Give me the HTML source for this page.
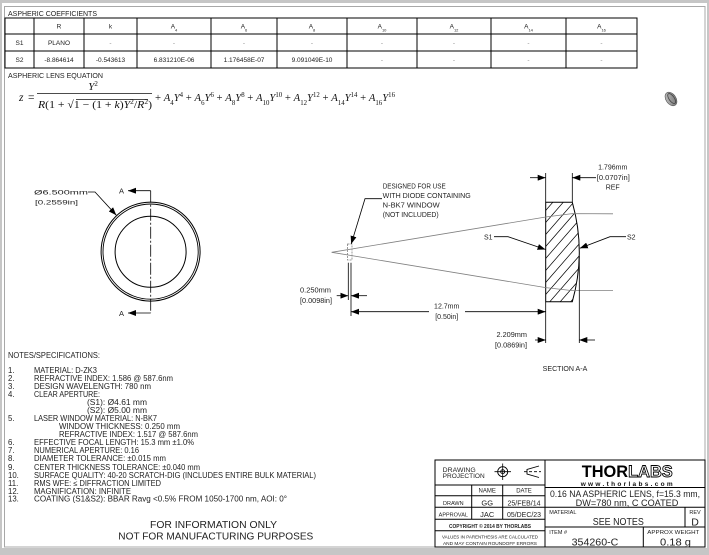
<!DOCTYPE html>
<html><head><meta charset="utf-8"><style>
html,body{margin:0;padding:0;background:#fff;}
svg{display:block;}
</style></head><body>
<svg xmlns="http://www.w3.org/2000/svg" width="709" height="555" viewBox="0 0 709 555" font-family="'Liberation Sans', sans-serif" fill="#222">
<defs>
<marker id="ah" viewBox="0 0 8 6" refX="8" refY="3" markerWidth="8" markerHeight="6" markerUnits="userSpaceOnUse" orient="auto"><path d="M0,0 L8,3 L0,6 z" fill="#000"/></marker>
<clipPath id="lc"><path d="M545.7,202.3 L572.3,202.3 Q586.3,252 572.3,301.7 L545.7,301.7 Z"/></clipPath>
<linearGradient id="lg" x1="0" y1="0" x2="1" y2="1"><stop offset="0" stop-color="#c8c8c8"/><stop offset="1" stop-color="#6a6a6a"/></linearGradient>
</defs>

<rect width="709" height="555" fill="#c6c6c6"/>
<rect x="2" y="3" width="705" height="545" fill="#fff"/>
<rect x="4.5" y="6.5" width="700.5" height="540.5" fill="none" stroke="#a8a8a8" stroke-width="1"/>

<text x="8" y="16" font-size="7.5" textLength="89" lengthAdjust="spacingAndGlyphs">ASPHERIC COEFFICIENTS</text>
<g stroke="#000" stroke-width="1" fill="none">
<rect x="5" y="18" width="632" height="50"/>
<line x1="5" y1="34" x2="637" y2="34"/>
<line x1="5" y1="51" x2="637" y2="51"/>
<line x1="34" y1="18" x2="34" y2="68"/>
<line x1="84" y1="18" x2="84" y2="68"/>
<line x1="137" y1="18" x2="137" y2="68"/>
<line x1="211" y1="18" x2="211" y2="68"/>
<line x1="277" y1="18" x2="277" y2="68"/>
<line x1="347" y1="18" x2="347" y2="68"/>
<line x1="417" y1="18" x2="417" y2="68"/>
<line x1="491" y1="18" x2="491" y2="68"/>
<line x1="566" y1="18" x2="566" y2="68"/>
</g>
<g font-size="6.5" text-anchor="middle">
<text x="59" y="28.5">R</text>
<text x="110.5" y="28.5">k</text>
<text x="174" y="28.5">A<tspan font-size="4" baseline-shift="sub">4</tspan></text>
<text x="244" y="28.5">A<tspan font-size="4" baseline-shift="sub">6</tspan></text>
<text x="312" y="28.5">A<tspan font-size="4" baseline-shift="sub">8</tspan></text>
<text x="382" y="28.5">A<tspan font-size="4" baseline-shift="sub">10</tspan></text>
<text x="454" y="28.5">A<tspan font-size="4" baseline-shift="sub">12</tspan></text>
<text x="528.5" y="28.5">A<tspan font-size="4" baseline-shift="sub">14</tspan></text>
<text x="601.5" y="28.5">A<tspan font-size="4" baseline-shift="sub">16</tspan></text>
<text x="19.5" y="45">S1</text>
<text x="59" y="45">PLANO</text>
<text x="110.5" y="45" fill="#888">-</text>
<text x="174" y="45" fill="#888">-</text>
<text x="244" y="45" fill="#888">-</text>
<text x="312" y="45" fill="#888">-</text>
<text x="382" y="45" fill="#888">-</text>
<text x="454" y="45" fill="#888">-</text>
<text x="528.5" y="45" fill="#888">-</text>
<text x="601.5" y="45" fill="#888">-</text>
<text x="19.5" y="62">S2</text>
<text x="59" y="62">-8.864614</text>
<text x="110.5" y="62">-0.543613</text>
<text x="174" y="62">6.831210E-06</text>
<text x="244" y="62">1.176458E-07</text>
<text x="312" y="62">9.091049E-10</text>
<text x="382" y="62" fill="#888">-</text>
<text x="454" y="62" fill="#888">-</text>
<text x="528.5" y="62" fill="#888">-</text>
<text x="601.5" y="62" fill="#888">-</text>
</g>

<text x="8" y="78" font-size="7.5" textLength="95" lengthAdjust="spacingAndGlyphs">ASPHERIC LENS EQUATION</text>
<g font-family="'Liberation Serif', serif" fill="#111">
<text x="19" y="101" font-size="11.5" font-style="italic">z</text>
<text x="28" y="101" font-size="11.5">=</text>
<text x="93" y="90" font-size="11" text-anchor="middle"><tspan font-style="italic">Y</tspan><tspan font-size="7" baseline-shift="super">2</tspan></text>
<line x1="37" y1="93.5" x2="152" y2="93.5" stroke="#111" stroke-width="0.8"/>
<text x="38" y="108" font-size="11" textLength="114" lengthAdjust="spacingAndGlyphs"><tspan font-style="italic">R</tspan>(1 + √1 − (1 + <tspan font-style="italic">k</tspan>)<tspan font-style="italic">Y</tspan><tspan font-size="7" baseline-shift="super">2</tspan>/<tspan font-style="italic">R</tspan><tspan font-size="7" baseline-shift="super">2</tspan>)</text>
<line x1="76" y1="99.5" x2="148" y2="99.5" stroke="#111" stroke-width="0.7"/>
<text x="155" y="101" font-size="11" textLength="240" lengthAdjust="spacingAndGlyphs">+ <tspan font-style="italic">A</tspan><tspan font-size="7" baseline-shift="sub">4</tspan><tspan font-style="italic">Y</tspan><tspan font-size="7" baseline-shift="super">4</tspan> + <tspan font-style="italic">A</tspan><tspan font-size="7" baseline-shift="sub">6</tspan><tspan font-style="italic">Y</tspan><tspan font-size="7" baseline-shift="super">6</tspan> + <tspan font-style="italic">A</tspan><tspan font-size="7" baseline-shift="sub">8</tspan><tspan font-style="italic">Y</tspan><tspan font-size="7" baseline-shift="super">8</tspan> + <tspan font-style="italic">A</tspan><tspan font-size="7" baseline-shift="sub">10</tspan><tspan font-style="italic">Y</tspan><tspan font-size="7" baseline-shift="super">10</tspan> + <tspan font-style="italic">A</tspan><tspan font-size="7" baseline-shift="sub">12</tspan><tspan font-style="italic">Y</tspan><tspan font-size="7" baseline-shift="super">12</tspan> + <tspan font-style="italic">A</tspan><tspan font-size="7" baseline-shift="sub">14</tspan><tspan font-style="italic">Y</tspan><tspan font-size="7" baseline-shift="super">14</tspan> + <tspan font-style="italic">A</tspan><tspan font-size="7" baseline-shift="sub">16</tspan><tspan font-style="italic">Y</tspan><tspan font-size="7" baseline-shift="super">16</tspan></text>
</g>

<g transform="translate(671,99) rotate(-35)">
<ellipse cx="0" cy="0" rx="5" ry="7.5" fill="url(#lg)" stroke="#555" stroke-width="0.6"/>
<ellipse cx="0.8" cy="0" rx="2.6" ry="5.8" fill="none" stroke="#444" stroke-width="0.8"/>
</g>

<g fill="none" stroke="#000">
<circle cx="150.6" cy="251.6" r="49.5" stroke-width="1"/>
<circle cx="150.6" cy="251.6" r="47.6" stroke-width="0.9"/>
<circle cx="150.6" cy="251.8" r="35.5" stroke-width="1"/>
<line x1="150.7" y1="190.7" x2="150.7" y2="313" stroke-width="0.8" stroke-dasharray="12,2,2,2"/>
<line x1="150.7" y1="190.7" x2="128" y2="190.7" stroke-width="0.8" marker-end="url(#ah)"/>
<line x1="150.7" y1="313" x2="128" y2="313" stroke-width="0.8" marker-end="url(#ah)"/>
<polyline points="88,192 95,192 116.3,215.2" stroke-width="0.8" marker-end="url(#ah)"/>
</g>
<text x="119" y="193.5" font-size="7.5">A</text>
<text x="119" y="316" font-size="7.5">A</text>
<text x="34" y="194.5" font-size="6.8" textLength="54" lengthAdjust="spacingAndGlyphs">Ø6.500mm</text>
<text x="35" y="204.5" font-size="6.8" textLength="43" lengthAdjust="spacingAndGlyphs">[0.2559in]</text>

<g clip-path="url(#lc)" stroke="#000" stroke-width="0.7">
<line x1="540" y1="205" x2="590" y2="147.5"/>
<line x1="540" y1="217" x2="590" y2="159.5"/>
<line x1="540" y1="229" x2="590" y2="171.5"/>
<line x1="540" y1="241" x2="590" y2="183.5"/>
<line x1="540" y1="253" x2="590" y2="195.5"/>
<line x1="540" y1="265" x2="590" y2="207.5"/>
<line x1="540" y1="277" x2="590" y2="219.5"/>
<line x1="540" y1="289" x2="590" y2="231.5"/>
<line x1="540" y1="301" x2="590" y2="243.5"/>
<line x1="540" y1="313" x2="590" y2="255.5"/>
<line x1="540" y1="325" x2="590" y2="267.5"/>
<line x1="540" y1="337" x2="590" y2="279.5"/>
<line x1="540" y1="349" x2="590" y2="291.5"/>
</g>
<path d="M545.7,202.3 L572.3,202.3 Q586.3,252 572.3,301.7 L545.7,301.7 Z" fill="none" stroke="#000" stroke-width="1"/>

<g fill="none" stroke="#808080" stroke-width="0.8">
<polyline points="331.7,252.3 545.7,217 572.3,213.6 613,213.8"/>
<polyline points="331.7,252.3 545.7,287.6 572.3,290.6 613,290.6"/>
<rect x="347.5" y="244" width="4.5" height="16" stroke-dasharray="2,1"/>
</g>

<g fill="none" stroke="#000" stroke-width="0.8">
<line x1="545.7" y1="173" x2="545.7" y2="202"/>
<line x1="572.3" y1="173" x2="572.3" y2="202"/>
<line x1="545.7" y1="302" x2="545.7" y2="343"/>
<line x1="579.3" y1="256" x2="579.3" y2="343"/>
<line x1="348.3" y1="262.7" x2="348.3" y2="300"/>
<line x1="351" y1="262.7" x2="351" y2="316"/>
<line x1="530" y1="177.7" x2="545.7" y2="177.7" marker-end="url(#ah)"/>
<line x1="596" y1="177.7" x2="572.3" y2="177.7" marker-end="url(#ah)"/>
<line x1="535" y1="340" x2="545.7" y2="340" marker-end="url(#ah)"/>
<line x1="595" y1="340" x2="579.3" y2="340" marker-end="url(#ah)"/>
<line x1="336.7" y1="295.7" x2="348.3" y2="295.7" marker-end="url(#ah)"/>
<line x1="367" y1="295.7" x2="351" y2="295.7" marker-end="url(#ah)"/>
<line x1="429" y1="311.7" x2="351" y2="311.7" marker-end="url(#ah)"/>
<line x1="465" y1="311.7" x2="545.7" y2="311.7" marker-end="url(#ah)"/>
<polyline points="494,236.7 508,236.7 545.5,249.5" marker-end="url(#ah)"/>
<polyline points="626,236.7 610,236.7 579.8,248.3" marker-end="url(#ah)"/>
<polyline points="382,198.7 365,198.7 351.2,244" marker-end="url(#ah)"/>
</g>
<g font-size="7">
<text x="612.7" y="169.5" text-anchor="middle">1.796mm</text>
<text x="613.3" y="180" text-anchor="middle" textLength="33" lengthAdjust="spacingAndGlyphs">[0.0707in]</text>
<text x="612.7" y="189.5" text-anchor="middle">REF</text>
<text x="300" y="292.5" textLength="31" lengthAdjust="spacingAndGlyphs">0.250mm</text>
<text x="300" y="302.8" textLength="32" lengthAdjust="spacingAndGlyphs">[0.0098in]</text>
<text x="446.7" y="308.5" text-anchor="middle">12.7mm</text>
<text x="446.7" y="318.8" text-anchor="middle">[0.50in]</text>
<text x="496.5" y="337" textLength="30.5" lengthAdjust="spacingAndGlyphs">2.209mm</text>
<text x="495" y="347.3" textLength="32" lengthAdjust="spacingAndGlyphs">[0.0869in]</text>
<text x="484" y="239.5">S1</text>
<text x="627" y="239.5">S2</text>
<text x="542.7" y="371" textLength="44.6" lengthAdjust="spacingAndGlyphs">SECTION A-A</text>
<text x="382.7" y="188.5" textLength="63" lengthAdjust="spacingAndGlyphs">DESIGNED FOR USE</text>
<text x="382.7" y="198" textLength="88" lengthAdjust="spacingAndGlyphs">WITH DIODE CONTAINING</text>
<text x="382.7" y="207.5" textLength="57" lengthAdjust="spacingAndGlyphs">N-BK7 WINDOW</text>
<text x="382.7" y="217" textLength="56" lengthAdjust="spacingAndGlyphs">(NOT INCLUDED)</text>
</g>

<g font-size="7.8">
<text x="8" y="358" textLength="92" lengthAdjust="spacingAndGlyphs">NOTES/SPECIFICATIONS:</text>
<text x="8" y="373">1.</text><text x="34" y="373" textLength="63" lengthAdjust="spacingAndGlyphs">MATERIAL: D-ZK3</text>
<text x="8" y="381">2.</text><text x="34" y="381" textLength="139" lengthAdjust="spacingAndGlyphs">REFRACTIVE INDEX: 1.586 @ 587.6nm</text>
<text x="8" y="389">3.</text><text x="34" y="389" textLength="117" lengthAdjust="spacingAndGlyphs">DESIGN WAVELENGTH: 780 nm</text>
<text x="8" y="397">4.</text><text x="34" y="397" textLength="66" lengthAdjust="spacingAndGlyphs">CLEAR APERTURE:</text>
<text x="87" y="405" textLength="60" lengthAdjust="spacingAndGlyphs">(S1): Ø4.61 mm</text>
<text x="87" y="413" textLength="60" lengthAdjust="spacingAndGlyphs">(S2): Ø5.00 mm</text>
<text x="8" y="421">5.</text><text x="34" y="421" textLength="123" lengthAdjust="spacingAndGlyphs">LASER WINDOW MATERIAL: N-BK7</text>
<text x="59" y="429" textLength="121" lengthAdjust="spacingAndGlyphs">WINDOW THICKNESS: 0.250 mm</text>
<text x="59" y="437" textLength="139" lengthAdjust="spacingAndGlyphs">REFRACTIVE INDEX: 1.517 @ 587.6nm</text>
<text x="8" y="445">6.</text><text x="34" y="445" textLength="160" lengthAdjust="spacingAndGlyphs">EFFECTIVE FOCAL LENGTH: 15.3 mm ±1.0%</text>
<text x="8" y="453">7.</text><text x="34" y="453" textLength="105" lengthAdjust="spacingAndGlyphs">NUMERICAL APERTURE: 0.16</text>
<text x="8" y="461">8.</text><text x="34" y="461" textLength="132" lengthAdjust="spacingAndGlyphs">DIAMETER TOLERANCE: ±0.015 mm</text>
<text x="8" y="470">9.</text><text x="34" y="470" textLength="166" lengthAdjust="spacingAndGlyphs">CENTER THICKNESS TOLERANCE: ±0.040 mm</text>
<text x="8" y="478">10.</text><text x="34" y="478" textLength="282" lengthAdjust="spacingAndGlyphs">SURFACE QUALITY: 40-20 SCRATCH-DIG (INCLUDES ENTIRE BULK MATERIAL)</text>
<text x="8" y="486">11.</text><text x="34" y="486" textLength="127" lengthAdjust="spacingAndGlyphs">RMS WFE: ≤ DIFFRACTION LIMITED</text>
<text x="8" y="494">12.</text><text x="34" y="494" textLength="97" lengthAdjust="spacingAndGlyphs">MAGNIFICATION: INFINITE</text>
<text x="8" y="501.5">13.</text><text x="34" y="501.5" textLength="253" lengthAdjust="spacingAndGlyphs">COATING (S1&amp;S2): BBAR Ravg &lt;0.5% FROM 1050-1700 nm, AOI: 0°</text>
</g>
<text x="150" y="528" font-size="10" textLength="127" lengthAdjust="spacingAndGlyphs">FOR INFORMATION ONLY</text>
<text x="118.3" y="539.5" font-size="10" textLength="195" lengthAdjust="spacingAndGlyphs">NOT FOR MANUFACTURING PURPOSES</text>

<g fill="none" stroke="#000" stroke-width="1">
<rect x="435" y="460" width="270" height="87"/>
<line x1="545" y1="460" x2="545" y2="547"/>
<line x1="435" y1="485" x2="545" y2="485"/>
<line x1="435" y1="495.7" x2="545" y2="495.7"/>
<line x1="435" y1="507.3" x2="545" y2="507.3"/>
<line x1="435" y1="519.3" x2="545" y2="519.3"/>
<line x1="435" y1="530.7" x2="545" y2="530.7"/>
<line x1="471.7" y1="485" x2="471.7" y2="519.3"/>
<line x1="502.7" y1="485" x2="502.7" y2="519.3"/>
<line x1="545" y1="487.5" x2="705" y2="487.5"/>
<line x1="545" y1="507.3" x2="705" y2="507.3"/>
<line x1="545" y1="527" x2="705" y2="527"/>
<line x1="685" y1="507.3" x2="685" y2="527"/>
<line x1="643.3" y1="527" x2="643.3" y2="547"/>
<circle cx="502.7" cy="471.7" r="5" stroke-width="0.9"/>
<circle cx="502.7" cy="471.7" r="2" stroke-width="0.9"/>
<line x1="494.5" y1="471.7" x2="511" y2="471.7" stroke-width="0.8"/>
<line x1="502.7" y1="463.5" x2="502.7" y2="480" stroke-width="0.8"/>
<path d="M539,466 L527,469.5 L527,474 L539,477.5" stroke-width="0.9"/>
<line x1="524" y1="471.7" x2="541" y2="471.7" stroke-width="0.8" stroke-dasharray="3,2"/>
</g>
<g font-size="6">
<text x="442.7" y="472" textLength="33" lengthAdjust="spacingAndGlyphs">DRAWING</text>
<text x="442.7" y="478" textLength="42" lengthAdjust="spacingAndGlyphs">PROJECTION</text>
<text x="487.2" y="492.5" text-anchor="middle">NAME</text>
<text x="524" y="492.5" text-anchor="middle">DATE</text>
<text x="453.3" y="505" text-anchor="middle" font-size="5.5">DRAWN</text>
<text x="453.3" y="516.5" text-anchor="middle" font-size="5.5">APPROVAL</text>
<text x="487.2" y="505.5" text-anchor="middle" font-size="7.5">GG</text>
<text x="487.2" y="517" text-anchor="middle" font-size="7.5">JAC</text>
<text x="524" y="505.5" text-anchor="middle" font-size="7" textLength="33" lengthAdjust="spacingAndGlyphs">25/FEB/14</text>
<text x="524" y="517" text-anchor="middle" font-size="7" textLength="34" lengthAdjust="spacingAndGlyphs">05/DEC/23</text>
<text x="490" y="528" text-anchor="middle" font-size="5" font-weight="bold" textLength="82" lengthAdjust="spacingAndGlyphs">COPYRIGHT © 2014 BY THORLABS</text>
<text x="490" y="538.5" text-anchor="middle" font-size="4.6" textLength="96" lengthAdjust="spacingAndGlyphs">VALUES IN PARENTHESIS ARE CALCULATED</text>
<text x="490" y="545" text-anchor="middle" font-size="4.6" textLength="94" lengthAdjust="spacingAndGlyphs">AND MAY CONTAIN ROUNDOFF ERRORS</text>
</g>
<text x="581.7" y="477" font-size="17" font-weight="bold" textLength="91" lengthAdjust="spacingAndGlyphs" fill="#000">THOR<tspan fill="#fff" stroke="#000" stroke-width="0.9">LABS</tspan></text>
<text x="580.7" y="486" font-size="6.5" font-weight="bold" textLength="92" lengthAdjust="spacing" fill="#111">www.thorlabs.com</text>
<text x="550" y="497" font-size="9" textLength="150" lengthAdjust="spacingAndGlyphs">0.16 NA ASPHERIC LENS, f=15.3 mm,</text>
<text x="575.7" y="506" font-size="9" textLength="102.7" lengthAdjust="spacingAndGlyphs">DW=780 nm, C COATED</text>
<text x="549.3" y="514" font-size="5.5">MATERIAL</text>
<text x="618.3" y="525" font-size="10" text-anchor="middle" textLength="51" lengthAdjust="spacingAndGlyphs">SEE NOTES</text>
<text x="695" y="514" font-size="5.5" text-anchor="middle">REV</text>
<text x="695" y="525.5" font-size="10.5" text-anchor="middle">D</text>
<text x="549.3" y="534" font-size="5.5">ITEM #</text>
<text x="673.3" y="534" font-size="5.5" text-anchor="middle" textLength="52" lengthAdjust="spacingAndGlyphs">APPROX WEIGHT</text>
<text x="595" y="545.5" font-size="10" text-anchor="middle" textLength="46.7" lengthAdjust="spacingAndGlyphs">354260-C</text>
<text x="675.5" y="545.5" font-size="10" text-anchor="middle" textLength="31" lengthAdjust="spacingAndGlyphs">0.18 g</text>
</svg>
</body></html>
